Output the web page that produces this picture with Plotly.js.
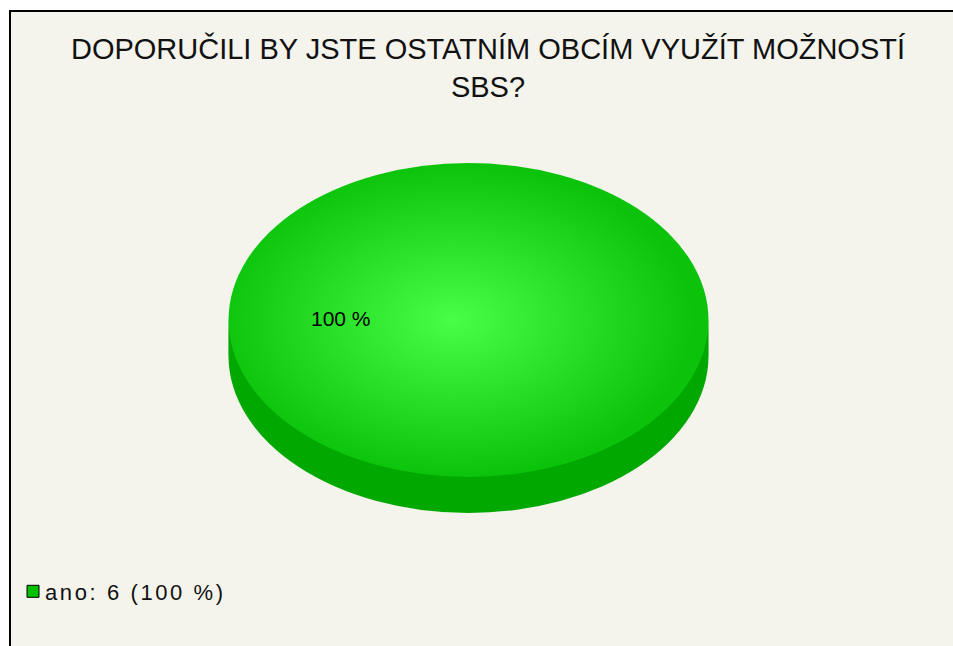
<!DOCTYPE html>
<html><head><meta charset="utf-8">
<script src="https://cdn.plot.ly/plotly-3.0.1.min.js"></script>
<style>
body{margin:0;background:#fff;}
.pielayer{transform-origin:0px 320px; transform:scaleY(0.654);}
.pielayer .trace:last-child path.surface{fill:url(#topGrad)!important;}
.legendpoints path{stroke:#000!important;stroke-width:1px!important;}
.legendtext{letter-spacing:2.6px; transform:translateX(-8px);}
</style></head><body>
<svg width="0" height="0" style="position:absolute"><defs>
<radialGradient id="topGrad" cx="0.47" cy="0.5" r="0.5">
<stop offset="0" stop-color="#48ff48"/><stop offset="1" stop-color="#0cc30c"/>
</radialGradient></defs></svg>
<div id="chart" style="width:953px;height:646px"></div>
<script>
const titleText = 'DOPORUČILI BY JSTE OSTATNÍM OBCÍM VYUŽÍT MOŽNOSTÍ<br>SBS?';
const categories = ['ano'];
const values = [6];
const colors = ['#00c000'];
const sideColor = '#00a800';

const total = values.reduce((a, b) => a + b, 0);
const pcts = values.map(v => Math.round(v / total * 100));
const legendLabels = categories.map((c, i) => c + ': ' + values[i] + ' (' + pcts[i] + ' %)');

const W = 953, H = 646, R = 240, CX = 468.5, CY = 320;
function dom(cy) {
  return {x: [(CX - R) / W, (CX + R) / W], y: [1 - (cy + R) / H, 1 - (cy - R) / H]};
}
const sideOffsets = [55, 42, 28, 14];
const traces = sideOffsets.map(o => ({
  type: 'pie', labels: legendLabels, values: values, sort: false,
  marker: {colors: [sideColor], line: {width: 0}},
  textinfo: 'none', hoverinfo: 'none', showlegend: false, domain: dom(CY + o)
}));
traces.push({
  type: 'pie', labels: legendLabels, values: values, sort: false,
  marker: {colors: colors, line: {width: 0}},
  textinfo: 'none', hoverinfo: 'none', showlegend: true, domain: dom(CY)
});

const layout = {
  width: W, height: H,
  margin: {l: 0, r: 0, t: 0, b: 0},
  paper_bgcolor: '#ffffff',
  font: {family: 'Liberation Sans, Arial, sans-serif', color: '#000'},
  title: {text: titleText, font: {size: 29, color: '#111'}, x: 488 / W, xanchor: 'center',
          y: 1 - 59 / H, yanchor: 'top', xref: 'paper', yref: 'paper'},
  shapes: [{type: 'rect', xref: 'paper', yref: 'paper', x0: 10 / W, x1: 1.3, y0: -0.3, y1: 1 - 11 / H,
            fillcolor: '#f4f4ec', line: {color: '#000', width: 2}, layer: 'below'}],
  annotations: [{text: pcts[0] + ' %', xref: 'paper', yref: 'paper', x: 341 / W, y: 1 - 318 / H,
                 showarrow: false, font: {size: 21, color: '#000'}}],
  showlegend: true,
  legend: {x: 13 / W, y: 1 - 591.5 / H, xanchor: 'left', yanchor: 'middle', bgcolor: 'rgba(0,0,0,0)',
           font: {size: 22, color: '#111'}}
};
Plotly.newPlot('chart', traces, layout, {staticPlot: true, displayModeBar: false});
</script>
</body></html>
